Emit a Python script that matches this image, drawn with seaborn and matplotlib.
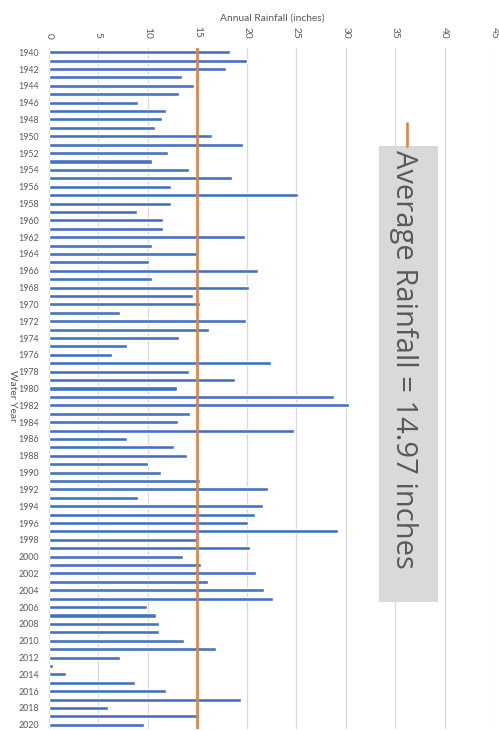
import matplotlib
matplotlib.use("Agg")
import matplotlib.pyplot as plt
import seaborn as sns
import pandas as pd
from matplotlib.patches import Rectangle
from matplotlib.lines import Line2D

# ---- data ----
years = list(range(1940, 2021))
rainfall = [
    18.3, 20.0, 17.9, 13.4, 14.7, 13.1, 9.05, 11.8, 11.45, 10.74,   # 1940-1949
    16.5, 19.6, 12.0, 10.4, 14.2, 18.5, 12.3, 25.2, 12.3, 8.85,     # 1950-1959
    11.5, 11.55, 19.8, 10.4, 15.0, 10.07, 21.1, 10.4, 20.2, 14.6,   # 1960-1969
    15.3, 7.16, 19.97, 16.2, 13.1, 7.87, 6.39, 22.4, 14.2, 18.8,    # 1970-1979
    12.9, 28.8, 30.3, 14.3, 13.0, 24.8, 7.9, 12.6, 14.0, 10.0,      # 1980-1989
    11.35, 15.3, 22.1, 9.05, 21.6, 20.8, 20.1, 29.2, 15.1, 20.3,    # 1990-1999
    13.5, 15.4, 20.9, 16.1, 21.7, 22.7, 9.9, 10.8, 11.1, 11.1,      # 2000-2009
    13.7, 16.9, 7.2, 0.44, 1.76, 8.65, 11.8, 19.4, 5.98, 15.2,      # 2010-2019
    9.6,                                                            # 2020
]
average_rainfall = 14.97
x_ticks = [0, 5, 10, 15, 20, 25, 30, 35, 40, 45]
year_tick_labels = [str(y) for y in years[::2]]
title_text = "Annual Rainfall (inches)"
ylabel_text = "Water Year"
legend_text = "Average Rainfall = 14.97 inches"

# ---- style ----
sns.set_theme(style="white")
plt.rcParams['font.family'] = ['Lato', 'DejaVu Sans']

BLUE = "#4472C4"
ORANGE = "#ED7D31"
GRID = "#D9D9D9"
TXT = "#595959"

W, H = 499, 730
fig = plt.figure(figsize=(W / 100, H / 100), dpi=100)
fig.patch.set_facecolor("white")

left, right, top, bottom = 49, 494, 48, 729
ax = fig.add_axes([left / W, 1 - bottom / H, (right - left) / W, (bottom - top) / H])

df = pd.DataFrame({"year": [str(y) for y in years], "rain": rainfall})
sns.barplot(data=df, x="rain", y="year", orient="h", color=BLUE,
            saturation=1, width=0.48, ax=ax, zorder=2)

ax.axvline(average_rainfall, color=ORANGE, lw=1.9, zorder=3)

ax.set_xlim(0, 45)
ax.set_xticks(x_ticks)
ax.xaxis.tick_top()
ax.set_xticklabels([str(t) for t in x_ticks], rotation=-90, fontsize=7.3, color=TXT)
ax.tick_params(axis="x", length=0, pad=7)

ax.set_yticks(range(0, len(years), 2))
ax.set_yticklabels(year_tick_labels, fontsize=6.4, color=TXT)
ax.tick_params(axis="y", length=0, pad=7)

ax.set_xlabel("")
ax.set_ylabel("")
ax.grid(axis="x", color=GRID, lw=0.9, zorder=0)
ax.set_axisbelow(True)
for s in ax.spines.values():
    s.set_visible(False)

# title and axis label
fig.text(272 / W, 1 - 18 / H, title_text, ha="center", va="center",
         fontsize=7.4, color=TXT)
fig.text(12 / W, 1 - 396 / H, ylabel_text, ha="center", va="center",
         rotation=-90, fontsize=7.4, color=TXT)

# legend box (rotated Excel legend)
bx0, bx1, by0, by1 = 379, 438, 146, 602
fig.patches.append(Rectangle((bx0 / W, 1 - by1 / H), (bx1 - bx0) / W, (by1 - by0) / H,
                             transform=fig.transFigure, facecolor="#D9D9D9",
                             edgecolor="none", zorder=5))
fig.lines.append(Line2D([406.5 / W, 406.5 / W], [1 - 123 / H, 1 - 146 / H],
                        transform=fig.transFigure, color=ORANGE, lw=1.9, zorder=6))
fig.text(403 / W, 1 - 150 / H, legend_text, ha="center", va="top",
         rotation=-90, fontsize=21, color=TXT, family=["Open Sans", "DejaVu Sans"],
         zorder=7)

fig.savefig("out.png", dpi=100, facecolor="white")
